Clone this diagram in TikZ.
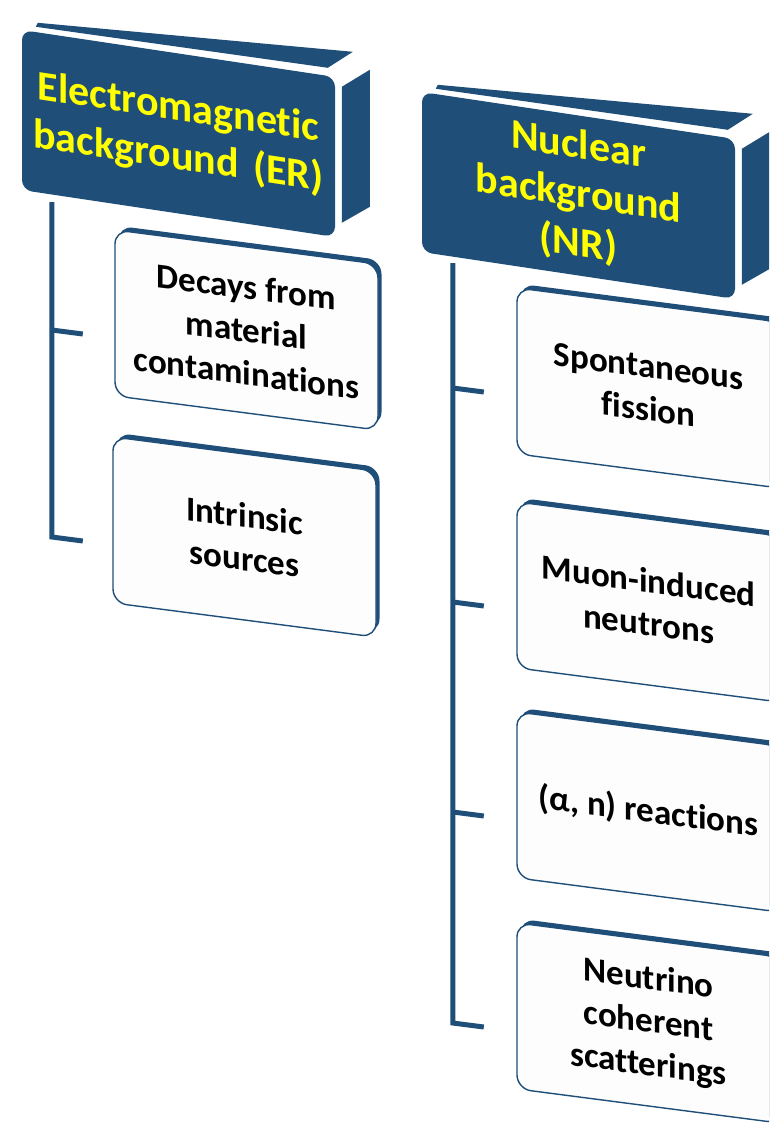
\documentclass[tikz,border=0pt]{standalone}
\usepackage{fontspec}
\setmainfont{Carlito}[Ligatures={NoCommon}]
\usetikzlibrary{shadows,calc}
\definecolor{dkblue}{HTML}{1F4E79}
\definecolor{hdyellow}{HTML}{FFFF00}
\definecolor{boxfill}{HTML}{FDFDFD}
\begin{document}
\begin{tikzpicture}[x=1pt,y=-1pt,
  header/.style={fill=dkblue, rounded corners=10pt, minimum width=313pt,
    minimum height=160pt, inner sep=0pt, text=hdyellow, align=center,
    font=\fontsize{42}{49}\selectfont\bfseries, yslant=-0.15},
  child/.style={fill=boxfill, draw=dkblue, line width=1.4pt, rounded corners=14pt,
    minimum width=263pt, minimum height=166pt, inner sep=0pt, align=center,
    font=\fontsize{35}{43}\selectfont\bfseries, yslant=-0.13,
    general shadow={fill=dkblue, shadow xshift=3.5pt, shadow yshift=4pt}},
  conn/.style={draw=dkblue, line width=5pt, line join=miter},
  hdrfaces/.pic={
    \fill[dkblue] (16,-7) -- (331,22) -- (306,38) -- (14,-3) -- cycle;
    \fill[dkblue] (320,57) -- (348,40) -- (348,177) -- (320,193) -- cycle;
  }]
\useasboundingbox (0,0) rectangle (769,1124);
\clip (0,0) rectangle (769,1124);

% headers
\node[header] (erh) at (178.5,133.5) {Electromagnetic\\background\hspace{0.12em} (ER)};
\node[header] (nrh) at (578.5,195.5) {Nuclear\\background\\(NR)};
\pic at (erh.north west) {hdrfaces};
\pic at (nrh.north west) {hdrfaces};

% children
\node[child] (c1) at (246.5,330) {Decays from\\material\\contaminations};
\node[child] (c2) at (244.5,537) {Intrinsic\\sources};
\node[child] (n1) at (648.5,388) {Spontaneous\\fission};
\node[child] (n2) at (648.5,602) {Muon-induced\\neutrons};
\node[child] (n3) at (648.5,812) {(α, n) reactions};
\node[child] (n4) at (648.5,1023) {Neutrino\\coherent\\scatterings};

% connectors
\coordinate (erT) at ($(erh.south west)+(30,12)$);
\coordinate (nrT) at ($(nrh.south west)+(31,11)$);
\draw[conn] (erT) -- (c2.center -| erT) -- ++(31,4);
\draw[conn] (c1.center -| erT) -- ++(31,4);
\draw[conn] (nrT) -- (n4.center -| nrT) -- ++(31,4);
\draw[conn] (n1.center -| nrT) -- ++(31,4);
\draw[conn] (n2.center -| nrT) -- ++(31,4);
\draw[conn] (n3.center -| nrT) -- ++(31,4);
\end{tikzpicture}
\end{document}
